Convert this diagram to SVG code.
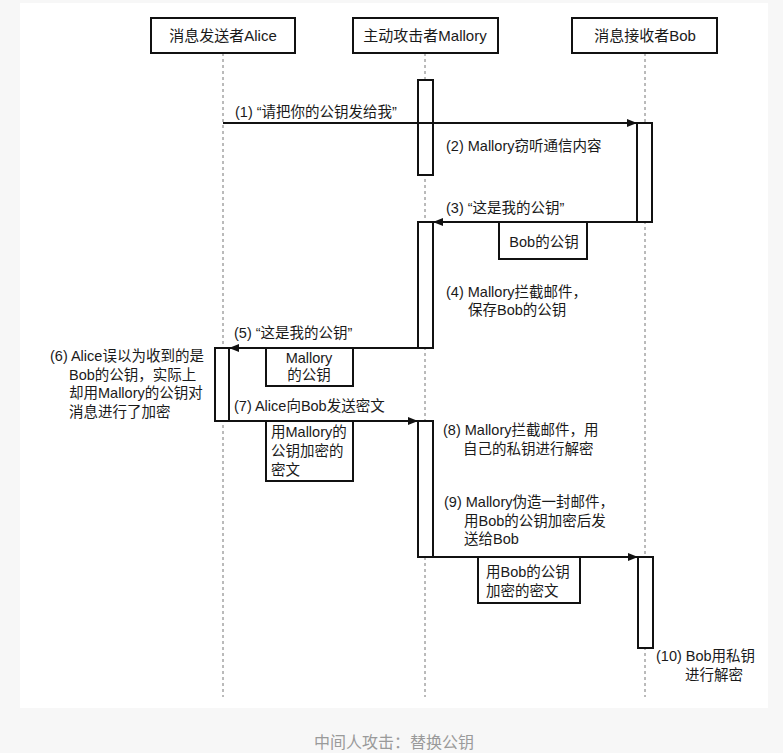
<svg xmlns="http://www.w3.org/2000/svg" width="783" height="753" viewBox="0 0 783 753">
<style>
text{font-family:"Liberation Sans","Noto Sans CJK SC",sans-serif;font-size:14.5px;fill:#1a1a1a}
.hd{font-size:15px;text-anchor:middle}
.cap{font-size:16px;fill:#9a9a9a;text-anchor:middle}
.mid{text-anchor:middle}
.box{fill:#fff;stroke:#111;stroke-width:2}
.act{fill:#fff;stroke:#111;stroke-width:2}
.life{stroke:#777;stroke-width:1;stroke-dasharray:3 3;fill:none}
.msg{stroke:#111;stroke-width:2;fill:none;marker-end:url(#ah)}
</style>
<defs>
<marker id="ah" viewBox="0 0 10 8" refX="10" refY="4" markerWidth="10" markerHeight="8" markerUnits="userSpaceOnUse" orient="auto">
<path d="M0,0 L10,4 L0,8 z" fill="#111"/>
</marker>
</defs>
<rect x="0" y="0" width="783" height="753" fill="#f7f7f7"/>
<rect x="20" y="3" width="748" height="705" fill="#fff"/>

<g id="lifelines">
<line class="life" x1="223" y1="53" x2="223" y2="697"/>
<line class="life" x1="425" y1="53" x2="425" y2="697"/>
<line class="life" x1="645" y1="53" x2="645" y2="697"/>
</g>

<g id="alice">
<rect class="box" x="151" y="18" width="144" height="35"/>
<text class="hd" x="223" y="41">消息发送者Alice</text>
</g>
<g id="mallory">
<rect class="box" x="353" y="18" width="145" height="35"/>
<text class="hd" x="425" y="41">主动攻击者Mallory</text>
</g>
<g id="bob">
<rect class="box" x="572" y="18" width="145" height="35"/>
<text class="hd" x="645" y="41">消息接收者Bob</text>
</g>

<g id="activations">
<rect class="act" x="418" y="80" width="15" height="95"/>
<rect class="act" x="637" y="123" width="15" height="99"/>
<rect class="act" x="418" y="222" width="15" height="126"/>
<rect class="act" x="215" y="348" width="14" height="73"/>
<rect class="act" x="418" y="421" width="15" height="136"/>
<rect class="act" x="638" y="557" width="15" height="91"/>
</g>

<g id="connectors">
<line class="msg" x1="223" y1="123" x2="637" y2="123"/>
<line class="msg" x1="637" y1="222" x2="433" y2="222"/>
<line class="msg" x1="418" y1="348" x2="229" y2="348"/>
<line class="msg" x1="229" y1="421" x2="418" y2="421"/>
<line class="msg" x1="433" y1="557" x2="638" y2="557"/>
</g>

<g id="note-bobkey">
<rect class="box" x="499" y="222" width="88" height="37"/>
<text class="mid" x="544" y="247">Bob的公钥</text>
</g>
<g id="note-mallorykey">
<rect class="box" x="266" y="348" width="87" height="38"/>
<text class="mid" x="309" y="363">Mallory</text>
<text class="mid" x="309" y="380">的公钥</text>
</g>
<g id="note-cipher1">
<rect class="box" x="266" y="421" width="87" height="60"/>
<text x="271" y="437">用Mallory的</text>
<text x="271" y="456">公钥加密的</text>
<text x="271" y="475">密文</text>
</g>
<g id="note-cipher2">
<rect class="box" x="478" y="557" width="102" height="46"/>
<text x="486" y="577">用Bob的公钥</text>
<text x="486" y="596">加密的密文</text>
</g>

<g id="labels">
<text x="235" y="117">(1) “请把你的公钥发给我”</text>
<text x="446" y="151">(2) Mallory窃听通信内容</text>
<text x="446" y="213">(3) “这是我的公钥”</text>
<text x="446" y="297">(4) Mallory拦截邮件，</text>
<text x="468" y="315">保存Bob的公钥</text>
<text x="234" y="338">(5) “这是我的公钥”</text>
<text x="50" y="361">(6) Alice误以为收到的是</text>
<text x="69" y="380">Bob的公钥，实际上</text>
<text x="69" y="398">却用Mallory的公钥对</text>
<text x="69" y="417">消息进行了加密</text>
<text x="234" y="411">(7) Alice向Bob发送密文</text>
<text x="443" y="435">(8) Mallory拦截邮件，用</text>
<text x="463" y="454">自己的私钥进行解密</text>
<text x="444" y="507">(9) Mallory伪造一封邮件，</text>
<text x="464" y="526">用Bob的公钥加密后发</text>
<text x="464" y="544">送给Bob</text>
<text x="656" y="661">(10) Bob用私钥</text>
<text x="685" y="680">进行解密</text>
</g>

<text class="cap" x="394" y="748">中间人攻击：替换公钥</text>
</svg>
